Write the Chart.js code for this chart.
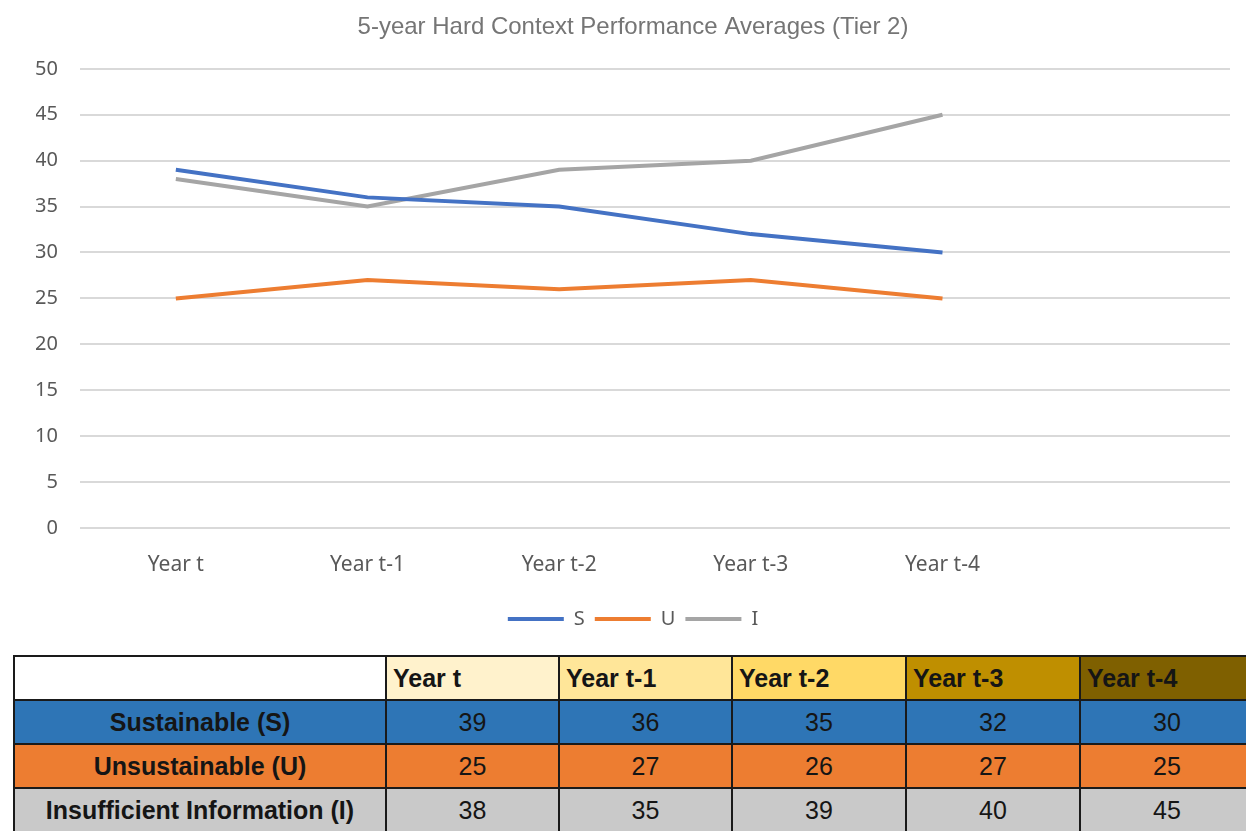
<!DOCTYPE html>
<html>
<head>
<meta charset="utf-8">
<script src="https://cdn.jsdelivr.net/npm/chart.js@4.4.1/dist/chart.umd.min.js"></script>
<style>
  html, body { margin: 0; padding: 0; background: #fff; }
  body { width: 1246px; height: 831px; overflow: hidden; position: relative; }
  #wrap { position: absolute; left: 0; top: 0; width: 1246px; height: 639px; }
  #perfTable {
    position: absolute; left: 13px; top: 655px;
    border-collapse: collapse; table-layout: fixed; width: 1240px;
    font-family: "Liberation Sans", Arial, sans-serif;
    font-size: 25px; color: #151515;
  }
  #perfTable td { border: 2px solid #1a1a1a; height: 42px; padding: 0; white-space: nowrap; overflow: hidden; }
  #perfTable td.head { font-weight: bold; text-align: left; padding-left: 6px; }
  #perfTable td.rowname { font-weight: bold; text-align: center; }
  #perfTable td.num { text-align: center; }
</style>
</head>
<body>
<div id="wrap"><canvas id="perfChart" width="1246" height="639"></canvas></div>
<table id="perfTable">
  <colgroup>
    <col style="width:372px"><col style="width:173px"><col style="width:173px">
    <col style="width:174px"><col style="width:174px"><col style="width:174px">
  </colgroup>
  <tbody id="perfBody"></tbody>
</table>
<script>
// --- Data ---
const years = ["Year t", "Year t-1", "Year t-2", "Year t-3", "Year t-4"];
const sustainable = [39, 36, 35, 32, 30];
const unsustainable = [25, 27, 26, 27, 25];
const insufficient = [38, 35, 39, 40, 45];
const yTicks = [0, 5, 10, 15, 20, 25, 30, 35, 40, 45, 50];

// --- Colours ---
const seriesColors = ["#4472C4", "#ED7D31", "#A5A5A5"];
const headColors = ["#FFF2CC", "#FFE699", "#FFD966", "#BF8F00", "#7F6000"];
const rowColors = ["#2E75B6", "#ED7D31", "#C9C9C9"];

// the category axis keeps one empty slot after the last year
const labels = years.concat([""]);
const pad = arr => arr.concat([null]);

const series = [
  { key: "S", name: "Sustainable (S)", values: sustainable },
  { key: "U", name: "Unsustainable (U)", values: unsustainable },
  { key: "I", name: "Insufficient Information (I)", values: insufficient }
];

// --- Chart ---
const ctx = document.getElementById("perfChart").getContext("2d");
const chart = new Chart(ctx, {
  type: "line",
  data: {
    labels,
    datasets: series.map((s, i) => ({
      label: s.key,
      data: pad(s.values),
      borderColor: seriesColors[i],
      backgroundColor: seriesColors[i],
      borderWidth: 4,
      pointRadius: 0,
      tension: 0,
      fill: false
    }))
  },
  options: {
    responsive: false,
    animation: false,
    layout: { padding: { left: 36, right: 16, top: 0, bottom: 0 } },
    plugins: {
      title: {
        display: true,
        text: "5-year Hard Context Performance Averages (Tier 2)",
        color: "#757575",
        font: { family: "Liberation Sans", size: 24, weight: "normal" },
        padding: { top: 13, bottom: 27 }
      },
      legend: {
        position: "bottom",
        labels: {
          color: "#595959",
          font: { family: "Noto Sans", size: 20 },
          boxWidth: 56,
          boxHeight: 4,
          padding: 10,
          generateLabels: c => c.data.datasets.map((d, i) => ({
            text: d.label,
            fillStyle: d.borderColor,
            strokeStyle: d.borderColor,
            lineWidth: 0,
            fontColor: "#595959",
            datasetIndex: i
          }))
        }
      },
      tooltip: { enabled: false }
    },
    scales: {
      x: {
        offset: true,
        afterFit: s => { s.height = 71; },
        grid: { display: false },
        border: { display: false },
        ticks: {
          color: "#595959",
          font: { family: "Noto Sans", size: 21 },
          padding: 16,
          maxRotation: 0,
          autoSkip: false
        }
      },
      y: {
        min: 0,
        max: 50,
        afterFit: s => { s.width = 44; },
        afterBuildTicks: s => { s.ticks = yTicks.map(v => ({ value: v })); },
        grid: { color: "#D9D9D9", lineWidth: 2, drawTicks: false },
        border: { display: false },
        ticks: {
          color: "#595959",
          font: { family: "Noto Sans", size: 20 },
          padding: 22
        }
      }
    }
  }
});

// --- Table ---
const body = document.getElementById("perfBody");
let html = "<tr><td class='rowname' style='background:#fff'></td>";
years.forEach((y, i) => {
  html += `<td class="head" style="background:${headColors[i]}">${y}</td>`;
});
html += "</tr>";
series.forEach((s, r) => {
  html += `<tr><td class="rowname" style="background:${rowColors[r]}">${s.name}</td>`;
  s.values.forEach(v => {
    html += `<td class="num" style="background:${rowColors[r]}">${v}</td>`;
  });
  html += "</tr>";
});
body.innerHTML = html;
</script>
</body>
</html>
